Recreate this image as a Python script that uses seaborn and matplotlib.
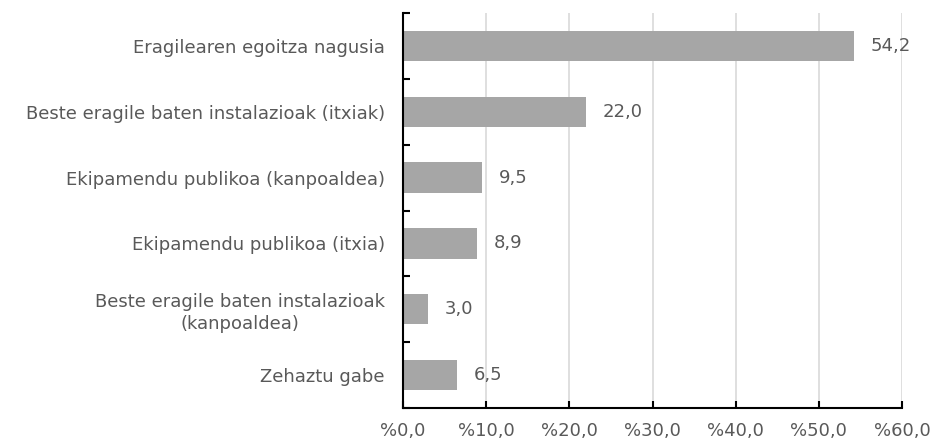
import matplotlib
matplotlib.use("Agg")
import matplotlib.pyplot as plt
import seaborn as sns
import pandas as pd

categories = [
    "Eragilearen egoitza nagusia",
    "Beste eragile baten instalazioak (itxiak)",
    "Ekipamendu publikoa (kanpoaldea)",
    "Ekipamendu publikoa (itxia)",
    "Beste eragile baten instalazioak\n(kanpoaldea)",
    "Zehaztu gabe",
]
values = [54.2, 22.0, 9.5, 8.9, 3.0, 6.5]
xticks = [0, 10, 20, 30, 40, 50, 60]

sns.set_theme(style="white")
plt.rcParams['font.family'] = ['DejaVu Sans']
plt.rcParams['xtick.bottom'] = True
plt.rcParams['ytick.left'] = True
text_color = "#595959"
fs = 13

df = pd.DataFrame({"cat": categories, "val": values})

fig = plt.figure(figsize=(9.34, 4.43), dpi=100)
ax = fig.add_axes([403/934, 1-408/443, (902-403)/934, (408-13)/443])
sns.barplot(data=df, y="cat", x="val", color="#a6a6a6", width=0.46,
            saturation=1, ax=ax, orient="h", linewidth=0)

ax.set_xlim(0, 60)
ax.set_ylim(len(categories) - 0.5, -0.5)
ax.set_xticks(xticks)
ax.set_xticklabels([f"%{v:.1f}".replace(".", ",") for v in xticks],
                   fontsize=fs, color=text_color)
ax.set_xlabel("")
ax.set_ylabel("")
ax.set_yticks(range(len(categories)))
ax.set_yticklabels(categories, fontsize=fs, color=text_color, ha="right",
                   multialignment="center", linespacing=1.3)
ax.tick_params(axis="y", which="major", length=0, pad=13)
ax.set_yticks([i - 0.5 for i in range(len(categories) + 1)], minor=True)
ax.tick_params(axis="y", which="minor", left=True, direction="in", length=5,
               width=1.5, color="black")
ax.tick_params(axis="x", bottom=True, direction="in", length=5, width=1.5,
               color="black", pad=10)

ax.grid(axis="x", color="#d9d9d9", linewidth=1.2)
ax.set_axisbelow(True)
for s in ["top", "right"]:
    ax.spines[s].set_visible(False)
for s in ["left", "bottom"]:
    ax.spines[s].set_color("black")
    ax.spines[s].set_linewidth(1.5)

for i, v in enumerate(values):
    ax.annotate(f"{v:.1f}".replace(".", ","), xy=(v, i), xytext=(12, 0),
                textcoords="offset points", va="center", ha="left",
                fontsize=fs, color=text_color)

fig.savefig("out.png", dpi=100)
